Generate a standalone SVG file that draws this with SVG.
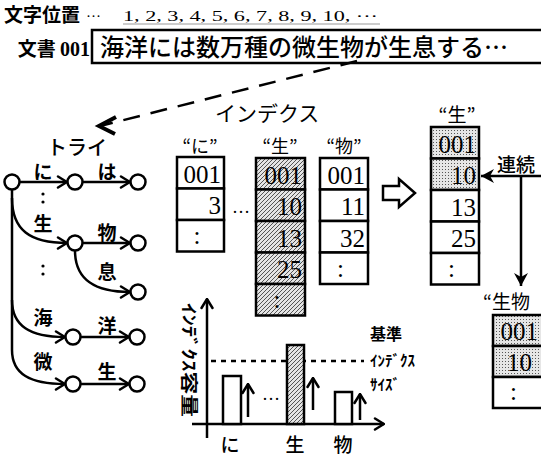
<svg xmlns="http://www.w3.org/2000/svg" width="541" height="456" viewBox="0 0 541 456">
<defs>
<pattern id="hatch" patternUnits="userSpaceOnUse" width="4" height="4">
<rect width="4" height="4" fill="#e4e4e4"/>
<path d="M-1,1 L1,-1 M0,4 L4,0 M3,5 L5,3" stroke="#444" stroke-width="0.9"/>
</pattern>
<pattern id="dots" patternUnits="userSpaceOnUse" width="3" height="3">
<rect width="3" height="3" fill="#e6e6e6"/>
<rect x="1" y="1" width="1" height="1" fill="#555"/>
</pattern>
<marker id="chev" viewBox="-11 -7 12 14" markerWidth="12" markerHeight="14" refX="0" refY="0" orient="auto" markerUnits="userSpaceOnUse">
<path d="M-9,-5.5 L0,0 L-9,5.5" fill="none" stroke="#000" stroke-width="2.5" stroke-linecap="round" stroke-linejoin="miter"/>
</marker>
<marker id="solid" viewBox="-14 -8 15 16" markerWidth="15" markerHeight="16" refX="0" refY="0" orient="auto" markerUnits="userSpaceOnUse">
<path d="M0,0 L-13,-7 L-9,0 L-13,7 Z" fill="#000"/>
</marker>
</defs>
<style>
.jp{font-family:'Noto Sans CJK JP',sans-serif;fill:#000}
.num{font-family:'Liberation Serif','Noto Sans CJK JP',serif;fill:#000}
.cell{fill:#fff;stroke:#000;stroke-width:2.5}
.ln{fill:none;stroke:#000;stroke-width:2.5}
.node{fill:#fff;stroke:#000;stroke-width:2.5}
.cn{font-family:'Liberation Serif','Noto Sans CJK JP',serif;font-size:25px;text-anchor:end}
.tl{font-family:'Noto Sans CJK JP',sans-serif;font-size:19px;font-weight:700;text-anchor:middle}
</style>

<g id="header">
<text class="jp" x="4" y="22" font-size="19" font-weight="700">文字位置</text>
<text class="num" x="86" y="21" font-size="15">···</text>
<text class="num" x="123" y="21" font-size="15" textLength="255" lengthAdjust="spacingAndGlyphs">1, 2, 3, 4, 5, 6, 7, 8, 9, 10, ···</text>
<line x1="123" y1="24" x2="380" y2="24" stroke="#999" stroke-width="1"/>
<text class="jp" x="90" y="56" font-size="19" font-weight="700" text-anchor="end">文書 <tspan class="num" font-weight="700" font-size="20">001</tspan></text>
</g>

<g id="document">
<rect x="92" y="30" width="470" height="33" fill="#fff" stroke="#000" stroke-width="2.5"/>
<text class="jp" x="100" y="56" font-size="24" font-weight="500">海洋には数万種の微生物が生息する…</text>
</g>

<g id="labels">
<text class="jp" x="215" y="121" font-size="21" font-weight="400">インデクス</text>
<text class="jp" x="47" y="155" font-size="20" font-weight="500">トライ</text>
</g>

<g id="connectors">
<path d="M357,61 L100,126" class="ln" stroke-width="4" stroke-dasharray="17 11"/>
<polyline points="116,117 99,126 115,134" fill="none" stroke="#000" stroke-width="4"/>
<line x1="19.5" y1="182" x2="67" y2="182" class="ln" marker-end="url(#chev)"/>
<line x1="82.5" y1="182" x2="130" y2="182" class="ln" marker-end="url(#chev)"/>
<path d="M12,189.5 L12,350 C12,374 30,384 65,384" class="ln" marker-end="url(#chev)"/>
<path d="M12,198 C12,230 30,243 67,243" class="ln" marker-end="url(#chev)"/>
<path d="M12,300 C12,326 30,337 65,337" class="ln" marker-end="url(#chev)"/>
<line x1="82.5" y1="243" x2="130" y2="243" class="ln" marker-end="url(#chev)"/>
<path d="M75,250.5 C75,280 95,292 130,292" class="ln" marker-end="url(#chev)"/>
<line x1="80.5" y1="337" x2="129" y2="337" class="ln" marker-end="url(#chev)"/>
<line x1="80.5" y1="384" x2="129" y2="384" class="ln" marker-end="url(#chev)"/>
<line x1="545" y1="176" x2="481" y2="176" class="ln" marker-end="url(#solid)"/>
<line x1="521" y1="176" x2="521" y2="286" class="ln" marker-end="url(#solid)"/>
</g>

<g id="trie-labels">
<text class="tl" x="43" y="179">に</text>
<text class="tl" x="107" y="179">は</text>
<text class="tl" x="43" y="231">生</text>
<text class="tl" x="107" y="240">物</text>
<text class="tl" x="107" y="279">息</text>
<text class="tl" x="43" y="325">海</text>
<text class="tl" x="107" y="333">洋</text>
<text class="tl" x="43" y="369">微</text>
<text class="tl" x="107" y="379">生</text>
<circle cx="43" cy="194" r="1.6"/><circle cx="43" cy="202" r="1.6"/>
<circle cx="43" cy="266" r="1.6"/><circle cx="43" cy="274" r="1.6"/>
</g>

<g id="trie-nodes">
<circle class="node" cx="12" cy="182" r="7.5"/>
<circle class="node" cx="75" cy="182" r="7.5"/>
<circle class="node" cx="138" cy="182" r="7.5"/>
<circle class="node" cx="75" cy="243" r="7.5"/>
<circle class="node" cx="138" cy="243" r="7.5"/>
<circle class="node" cx="138" cy="292" r="7.5"/>
<circle class="node" cx="73" cy="337" r="7.5"/>
<circle class="node" cx="137" cy="337" r="7.5"/>
<circle class="node" cx="73" cy="384" r="7.5"/>
<circle class="node" cx="137" cy="384" r="7.5"/>
</g>

<g id="index-ni">
<text class="jp" x="200" y="153" font-size="18" text-anchor="middle">“に”</text>
<rect class="cell" x="177" y="157" width="47" height="31.5"/>
<rect class="cell" x="177" y="188.5" width="47" height="31.5"/>
<rect class="cell" x="177" y="220" width="47" height="31.5"/>
<text class="cn" x="221" y="183">001</text>
<text class="cn" x="221" y="214">3</text>
<text class="cn" x="200.5" y="244" text-anchor="middle">:</text>
<text class="num" x="241" y="213" font-size="18" text-anchor="middle">…</text>
</g>

<g id="index-sei">
<text class="jp" x="280" y="153" font-size="18" text-anchor="middle">“生”</text>
<rect class="cell" x="256" y="158" width="49" height="31.5" style="fill:url(#hatch)"/>
<rect class="cell" x="256" y="189.5" width="49" height="31.5" style="fill:url(#hatch)"/>
<rect class="cell" x="256" y="221" width="49" height="31.5" style="fill:url(#hatch)"/>
<rect class="cell" x="256" y="252.5" width="49" height="31.5" style="fill:url(#hatch)"/>
<rect class="cell" x="256" y="284" width="49" height="31.5" style="fill:url(#hatch)"/>
<text class="cn" x="302" y="184">001</text>
<text class="cn" x="302" y="215">10</text>
<text class="cn" x="302" y="247">13</text>
<text class="cn" x="302" y="278">25</text>
<text class="cn" x="280.5" y="308" text-anchor="middle">:</text>
</g>

<g id="index-butsu">
<text class="jp" x="344" y="153" font-size="18" text-anchor="middle">“物”</text>
<rect class="cell" x="320" y="158" width="48" height="31.5"/>
<rect class="cell" x="320" y="189.5" width="48" height="31.5"/>
<rect class="cell" x="320" y="221" width="48" height="31.5"/>
<rect class="cell" x="320" y="252.5" width="48" height="31.5"/>
<text class="cn" x="365" y="184">001</text>
<text class="cn" x="365" y="215">11</text>
<text class="cn" x="365" y="247">32</text>
<text class="cn" x="344" y="277" text-anchor="middle">:</text>
</g>

<g id="block-arrow">
<polygon points="383,186 399,186 399,179 415,193 399,207 399,200 383,200" fill="#fff" stroke="#000" stroke-width="2.5" stroke-linejoin="miter"/>
</g>

<g id="result-sei">
<text class="jp" x="457" y="122" font-size="19" text-anchor="middle">“生”</text>
<rect class="cell" x="431" y="127" width="48" height="31.5" style="fill:url(#dots)"/>
<rect class="cell" x="431" y="158.5" width="48" height="31.5" style="fill:url(#dots)"/>
<rect class="cell" x="431" y="190" width="48" height="31.5"/>
<rect class="cell" x="431" y="221.5" width="48" height="31.5"/>
<rect class="cell" x="431" y="253" width="48" height="31.5"/>
<text class="cn" x="476" y="153">001</text>
<text class="cn" x="476" y="184">10</text>
<text class="cn" x="476" y="216">13</text>
<text class="cn" x="476" y="247">25</text>
<text class="cn" x="455" y="277" text-anchor="middle">:</text>
</g>

<g id="renzoku">
<text class="jp" x="497" y="172" font-size="19" font-weight="500">連続</text>
</g>

<g id="result-seibutsu">
<text class="jp" x="483" y="309" font-size="19">“生物</text>
<rect class="cell" x="493" y="315" width="54" height="31" style="fill:url(#dots)"/>
<rect class="cell" x="493" y="346" width="54" height="31" style="fill:url(#dots)"/>
<rect class="cell" x="493" y="377" width="54" height="31"/>
<text class="cn" x="538" y="340">001</text>
<text class="cn" x="532" y="371">10</text>
<text class="cn" x="517" y="400" text-anchor="middle">:</text>
</g>

<g id="chart">
<line x1="207" y1="438" x2="207" y2="299" class="ln" marker-end="url(#chev)"/>
<line x1="192" y1="424" x2="384" y2="424" class="ln" marker-end="url(#chev)"/>
<line x1="211" y1="361" x2="364" y2="361" class="ln" stroke-dasharray="5 5"/>
<rect class="cell" x="223" y="376" width="18" height="48"/>
<rect class="cell" x="287" y="345" width="17" height="79" style="fill:url(#hatch)"/>
<rect class="cell" x="335" y="392" width="17" height="32"/>
<line x1="248" y1="417" x2="248" y2="384" class="ln" marker-end="url(#chev)"/>
<line x1="313" y1="410" x2="313" y2="378" class="ln" marker-end="url(#chev)"/>
<line x1="360" y1="420" x2="360" y2="394" class="ln" marker-end="url(#chev)"/>
<text class="num" x="271" y="400" font-size="18" text-anchor="middle">…</text>
<text class="jp" x="230" y="452" font-size="19" font-weight="500" text-anchor="middle">に</text>
<text class="jp" x="295" y="452" font-size="19" font-weight="500" text-anchor="middle">生</text>
<text class="jp" x="343" y="452" font-size="19" font-weight="500" text-anchor="middle">物</text>
<text class="jp" transform="translate(183,303) rotate(90)" font-size="17" font-weight="700" textLength="114" lengthAdjust="spacingAndGlyphs">ｲﾝﾃﾞｸｽ容量</text>
<text class="jp" x="370" y="340" font-size="16" font-weight="700">基準</text>
<text class="jp" x="370" y="366" font-size="15" font-weight="700">ｲﾝﾃﾞｸｽ</text>
<text class="jp" x="370" y="390" font-size="15" font-weight="700">ｻｲｽﾞ</text>
</g>
</svg>
